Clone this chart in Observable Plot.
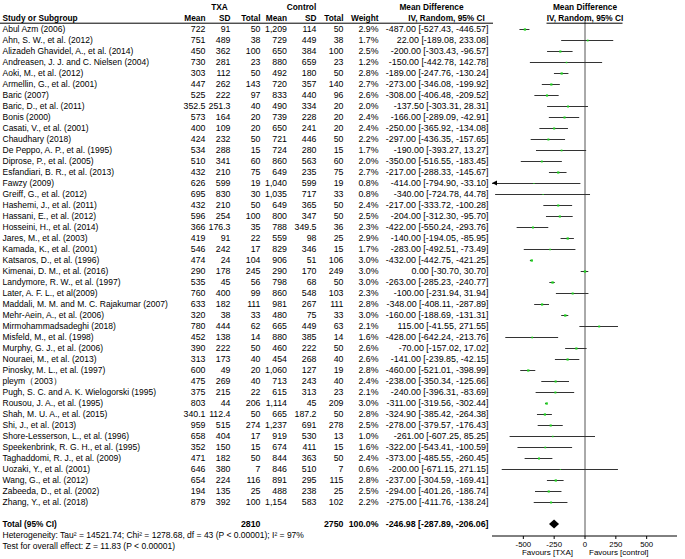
<!DOCTYPE html>
<html><head><meta charset="utf-8">
<script src="https://cdn.jsdelivr.net/npm/d3@7"></script>
<script src="https://cdn.jsdelivr.net/npm/@observablehq/plot@0.6"></script>
<style>body{margin:0;background:#fff}</style>
</head><body><div id="chart"></div>
<script>
// ---------- data ----------
const studies = ["Abul Azm (2006)","Ahn, S. W., et al. (2012)","Alizadeh Ghavidel, A., et al. (2014)","Andreasen, J. J. and C. Nielsen (2004)","Aoki, M., et al. (2012)","Armellin, G., et al. (2001)","Baric (2007)","Baric, D., et al. (2011)","Bonis (2000)","Casati, V., et al. (2001)","Chaudhary (2018)","De Peppo, A. P., et al. (1995)","Diprose, P., et al. (2005)","Esfandiari, B. R., et al. (2013)","Fawzy (2009)","Greiff, G., et al. (2012)","Hashemi, J., et al. (2011)","Hassani, E., et al. (2012)","Hosseini, H., et al. (2014)","Jares, M., et al. (2003)","Kamada, K., et al. (2001)","Katsaros, D., et al. (1996)","Kimenai, D. M., et al. (2016)","Landymore, R. W., et al. (1997)","Later, A. F. L., et al(2009)","Maddali, M. M. and M. C. Rajakumar (2007)","Mehr-Aein, A., et al. (2006)","Mirmohammadsadeghi (2018)","Misfeld, M., et al. (1998)","Murphy, G. J., et al. (2006)","Nouraei, M., et al. (2013)","Pinosky, M. L., et al. (1997)","pleym\uFF082003\uFF09","Pugh, S. C. and A. K. Wielogorski (1995)","Rousou, J. A., et al. (1995)","Shah, M. U. A., et al. (2015)","Shi, J., et al. (2013)","Shore-Lesserson, L., et al. (1996)","Speekenbrink, R. G. H., et al. (1995)","Taghaddomi, R. J., et al. (2009)","Uozaki, Y., et al. (2001)","Wang, G., et al. (2012)","Zabeeda, D., et al. (2002)","Zhang, Y., et al. (2018)"];
const txaMean = [722,751,450,730,303,447,525,352.5,573,400,424,534,510,432,626,695,432,596,366,419,546,474,290,535,760,633,320,780,452,390,313,600,475,375,803,340.1,959,658,352,471,646,654,194,879];
const txaSD = [91,489,362,281,112,262,222,251.3,164,109,232,288,341,210,599,830,210,254,176.3,91,242,24,178,45,400,182,38,444,138,222,173,49,269,215,44,112.4,515,404,150,182,380,224,135,392];
const txaN = [50,38,100,23,50,143,97,40,20,20,50,15,60,75,19,30,50,100,35,22,17,104,245,56,99,111,33,62,14,50,40,20,40,22,206,50,274,17,15,50,7,116,25,100];
const ctlMean = [1209,729,650,880,492,720,833,490,739,650,721,724,860,649,1040,1035,649,800,788,559,829,906,290,798,860,981,480,665,880,460,454,1060,713,615,1114,665,1237,919,674,844,846,891,488,1154];
const ctlSD = [114,449,384,659,180,357,440,334,228,241,446,280,563,235,599,717,365,347,349.5,98,346,51,170,68,548,267,75,449,385,222,268,127,243,313,45,187.2,691,530,411,363,510,295,238,583];
const ctlN = [50,38,100,23,50,140,96,20,20,20,50,15,60,75,19,33,50,50,36,25,15,106,249,50,103,111,33,63,14,50,40,19,40,23,209,50,278,13,15,50,7,115,25,102];
const weight = [2.9,1.7,2.5,1.2,2.8,2.7,2.6,2.0,2.4,2.4,2.2,1.7,2.0,2.7,0.8,0.8,2.4,2.5,2.3,2.9,1.7,3.0,3.0,3.0,2.3,2.8,3.0,2.1,1.6,2.6,2.6,2.8,2.4,2.1,3.0,2.8,2.5,1.0,1.6,2.4,0.6,2.8,2.5,2.2];
const md = [-487,22,-200,-150,-189,-273,-308,-137.5,-166,-250,-297,-190,-350,-217,-414,-340,-217,-204,-422,-140,-283,-432,0,-263,-100,-348,-160,115,-428,-70,-141,-460,-238,-240,-311,-324.9,-278,-261,-322,-373,-200,-237,-294,-275];
const ciLow = [-527.43,-189.08,-303.43,-442.78,-247.76,-346.08,-406.48,-303.31,-289.09,-365.92,-436.35,-393.27,-516.55,-288.33,-794.90,-724.78,-333.72,-312.30,-550.24,-194.05,-492.51,-442.75,-30.70,-285.23,-231.94,-408.11,-188.69,-41.55,-642.24,-157.02,-239.85,-521.01,-350.34,-396.31,-319.56,-385.42,-379.57,-607.25,-543.41,-485.55,-671.15,-304.59,-401.26,-411.76];
const ciHigh = [-446.57,233.08,-96.57,142.78,-130.24,-199.92,-209.52,28.31,-42.91,-134.08,-157.65,13.27,-183.45,-145.67,-33.10,44.78,-100.28,-95.70,-293.76,-85.95,-73.49,-421.25,30.70,-240.77,31.94,-287.89,-131.31,271.55,-213.76,17.02,-42.15,-398.99,-125.66,-83.69,-302.44,-264.38,-176.43,85.25,-100.59,-260.45,271.15,-169.41,-186.74,-138.24];

const totalLabel = "Total (95% CI)";
const totalN = [2810, 2750];
const totalWeight = 100.0;
const totalMD = [-246.98, -287.89, -206.06]; // estimate, low, high
const heterogeneity = "Heterogeneity: Tau\u00B2 = 14521.74; Chi\u00B2 = 1278.68, df = 43 (P < 0.00001); I\u00B2 = 97%";
const overallTest = "Test for overall effect: Z = 11.83 (P < 0.00001)";
const groupLabels = ["TXA", "Control", "Mean Difference"];
const headerLabels = ["Study or Subgroup","Mean","SD","Total","Mean","SD","Total","Weight","IV, Random, 95% CI"];
const plotHeaders = ["Mean Difference", "IV, Random, 95% CI"];
const favourLabels = ["Favours [TXA]", "Favours [control]"];
const xTicks = [-500, -250, 0, 250, 500];
const xDomain = [-750, 750];

// ---------- layout (styles) ----------
const W = 685, H = 559, L = 492, R = 8;
const rowTop = 3.7, rowStep = 11.13;
const FONT = "'Liberation Sans', Arial, sans-serif";

const fmt = d3.format(",");
const f2 = v => v.toFixed(2);
const ciText = (m, lo, hi) => `${f2(m)} [${f2(lo)}, ${f2(hi)}]`;

const rows = studies.map((name, i) => ({
  name,
  txaMean: fmt(txaMean[i]), txaSD: fmt(txaSD[i]), txaN: String(txaN[i]),
  ctlMean: fmt(ctlMean[i]), ctlSD: fmt(ctlSD[i]), ctlN: String(ctlN[i]),
  weight: weight[i].toFixed(1) + "%",
  ci: ciText(md[i], ciLow[i], ciHigh[i]),
  md: md[i], lo: ciLow[i], hi: ciHigh[i], w: weight[i]
}));

const rowDomain = ["h1", "h2", ...studies, "blank", "total", "het", "test"];

// column: key, pixel edge, anchor, font size
const cols = [
  {key: "name",    edge: 2,     anchor: "start", size: 8.5},
  {key: "txaMean", edge: 205,   anchor: "end",   size: 8.8},
  {key: "txaSD",   edge: 230,   anchor: "end",   size: 8.8},
  {key: "txaN",    edge: 260,   anchor: "end",   size: 8.8},
  {key: "ctlMean", edge: 286.5, anchor: "end",   size: 8.8},
  {key: "ctlSD",   edge: 316,   anchor: "end",   size: 8.8},
  {key: "ctlN",    edge: 343,   anchor: "end",   size: 8.8},
  {key: "weight",  edge: 378,   anchor: "end",   size: 8.8},
  {key: "ci",      edge: 488,   anchor: "end",   size: 8.9}
];
const headerPos = cols.map(c => ({edge: c.edge, anchor: c.anchor}));
headerPos[8] = {edge: 446, anchor: "middle"};
const groupPos = [{edge: 219, anchor: "middle"}, {edge: 301, anchor: "middle"}, {edge: 431, anchor: "middle"}];

const marks = [];

// zero line
marks.push(Plot.ruleX([0], {stroke: "#555", strokeWidth: 1}));

// CI lines
marks.push(Plot.ruleY(rows, {
  y: "name",
  x1: d => Math.max(d.lo, xDomain[0]),
  x2: d => Math.min(d.hi, xDomain[1]),
  stroke: "#333", strokeWidth: 1
}));

// point estimates
marks.push(Plot.dot(rows, {x: "md", y: "name", r: "w", symbol: "square", fill: "#1fd11f"}));

// table columns
for (const c of cols) {
  marks.push(Plot.text(rows, {
    y: "name", text: c.key, frameAnchor: "left", dx: c.edge - L,
    textAnchor: c.anchor, fontSize: c.size, fill: "#000"
  }));
}

// headers
headerLabels.forEach((t, i) => {
  marks.push(Plot.text([t], {
    y: () => "h2", text: d => d, frameAnchor: "left", dx: headerPos[i].edge - L,
    textAnchor: headerPos[i].anchor, fontWeight: "bold", fontSize: 8.3, fill: "#000"
  }));
});
groupLabels.forEach((t, i) => {
  marks.push(Plot.text([t], {
    y: () => "h1", text: d => d, frameAnchor: "left", dx: groupPos[i].edge - L,
    textAnchor: groupPos[i].anchor, fontWeight: "bold", fontSize: 8.3, fill: "#000"
  }));
});
plotHeaders.forEach((t, i) => {
  marks.push(Plot.text([t], {
    x: () => 0, y: () => (i === 0 ? "h1" : "h2"), text: d => d,
    textAnchor: "middle", fontWeight: "bold", fontSize: 8.3, fill: "#000"
  }));
});

// total row
const totalCells = [
  {text: totalLabel, col: 0},
  {text: String(totalN[0]), col: 3},
  {text: String(totalN[1]), col: 6},
  {text: totalWeight.toFixed(1) + "%", col: 7},
  {text: ciText(...totalMD), col: 8}
];
totalCells.forEach(tc => {
  const c = cols[tc.col];
  marks.push(Plot.text([tc.text], {
    y: () => "total", text: d => d, frameAnchor: "left", dx: c.edge - L,
    textAnchor: c.anchor, fontWeight: "bold", fontSize: tc.col === 0 ? 8.3 : 8.8, fill: "#000"
  }));
});

// footnotes
[[heterogeneity, "het"], [overallTest, "test"]].forEach(([t, r]) => {
  marks.push(Plot.text([t], {
    y: () => r, text: d => d, frameAnchor: "left", dx: 2 - L,
    textAnchor: "start", fontSize: 8.5, fill: "#000"
  }));
});

// axis
marks.push(Plot.axisX({ticks: xTicks, tickSize: 3, tickPadding: 1.5, tickFormat: d => String(d),
  fontSize: 7.8, label: null, stroke: "#000", fill: "#000"}));

// favours labels
marks.push(Plot.text([favourLabels[0]], {x: () => 0, text: d => d, frameAnchor: "bottom", dy: 18.5, dx: -12, textAnchor: "end", fontSize: 8, fill: "#000"}));
marks.push(Plot.text([favourLabels[1]], {x: () => 0, text: d => d, frameAnchor: "bottom", dy: 18.5, dx: 4, textAnchor: "start", fontSize: 8, fill: "#000"}));

// extras drawn with the plot's scales: header rules, axis baseline, diamond, clipped arrows
function extras(index, scales, values, dims) {
  if (!scales || typeof scales.x !== "function" || typeof scales.y !== "function") return null;
  const x = scales.x, y = scales.y;
  const g = d3.create("svg:g");
  const yU = y("h2") + 5.2;
  g.append("line").attr("x1", 0).attr("x2", cols[8].edge + 5).attr("y1", yU).attr("y2", yU)
    .attr("stroke", "#000").attr("stroke-width", 1);
  g.append("line").attr("x1", x(0) - 38).attr("x2", x(0) + 38).attr("y1", yU).attr("y2", yU)
    .attr("stroke", "#000").attr("stroke-width", 1);
  const yb = dims.height - dims.marginBottom;
  g.append("line").attr("x1", dims.marginLeft).attr("x2", dims.width - dims.marginRight)
    .attr("y1", yb).attr("y2", yb).attr("stroke", "#000").attr("stroke-width", 1);
  const yT = y("total");
  const [m, lo, hi] = totalMD;
  g.append("polygon")
    .attr("points", [[x(lo), yT], [x(m), yT - 4.5], [x(hi), yT], [x(m), yT + 4.5]].map(p => p.join(",")).join(" "))
    .attr("fill", "#000");
  for (const d of rows) {
    if (d.lo < xDomain[0]) {
      const x0 = x(xDomain[0]), yr = y(d.name);
      g.append("polygon").attr("points", `${x0},${yr} ${x0 + 5},${yr - 2.6} ${x0 + 5},${yr + 2.6}`).attr("fill", "#000");
    }
  }
  return g.node();
}
marks.push(extras);

const chart = Plot.plot({
  width: W, height: H,
  marginLeft: L, marginRight: R, marginTop: 19, marginBottom: 23,
  style: {fontFamily: FONT, fontSize: "9px", background: "#fff", color: "#000", overflow: "visible"},
  x: {domain: xDomain, label: null},
  y: {type: "point", domain: rowDomain, range: [rowTop, rowTop + (rowDomain.length - 1) * rowStep], padding: 0, axis: null},
  r: {type: "sqrt", domain: [0, 3], range: [0, 1.3]},
  marks
});
document.getElementById("chart").appendChild(chart);
</script>
</body></html>
